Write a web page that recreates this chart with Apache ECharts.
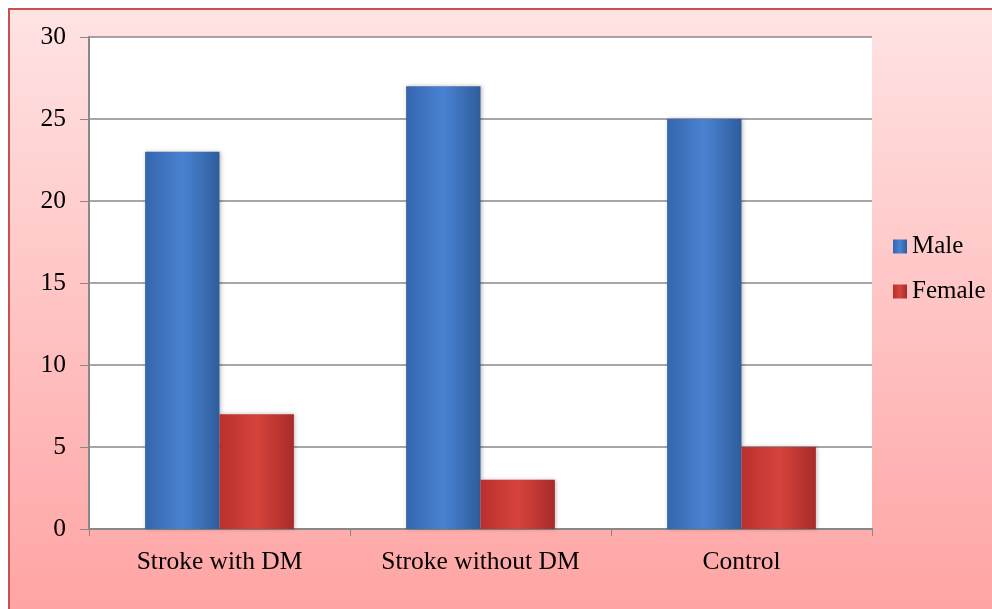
<!DOCTYPE html>
<html><head><meta charset="utf-8">
<script src="https://cdn.jsdelivr.net/npm/echarts@6/dist/echarts.min.js"></script>
<style>html,body{margin:0;padding:0;background:#fff}#c{width:992px;height:609px}</style>
</head><body><div id="c"></div>
<script>
const categories = ['Stroke with DM', 'Stroke without DM', 'Control'];
const maleValues = [23, 27, 25];
const femaleValues = [7, 3, 5];
const yTicks = [0, 5, 10, 15, 20, 25, 30];

const chart = echarts.init(document.getElementById('c'));
const font = 'Liberation Serif, "Times New Roman", serif';
function hgrad(a, b, c) {
  return new echarts.graphic.LinearGradient(0, 0, 1, 0, [
    {offset: 0, color: a}, {offset: 0.5, color: b}, {offset: 1, color: c}
  ]);
}
chart.setOption({
  animation: false,
  graphic: [{
    type: 'rect', z: -10, silent: true,
    shape: {x: 9, y: 9, width: 990, height: 610},
    style: {
      fill: new echarts.graphic.LinearGradient(0, 0, 0, 1, [
        {offset: 0, color: '#ffe3e3'}, {offset: 1, color: '#ffa3a3'}
      ]),
      stroke: '#c9504e', lineWidth: 2
    }
  }],
  grid: {left: 89, right: 120, top: 37, bottom: 80, show: true, backgroundColor: '#ffffff', borderWidth: 0},
  legend: {
    orient: 'vertical', left: 888, top: 229, itemGap: 20,
    itemWidth: 14, itemHeight: 14, icon: 'rect',
    textStyle: {fontFamily: font, fontSize: 25, color: '#000'},
    data: ['Male', 'Female']
  },
  xAxis: {
    type: 'category', data: categories,
    axisLine: {lineStyle: {color: '#888', width: 2}},
    axisTick: {show: true, length: 7, lineStyle: {color: '#888'}},
    axisLabel: {fontFamily: font, fontSize: 25.5, color: '#000', margin: 20}
  },
  yAxis: {
    type: 'value', min: 0, max: 30, interval: 5,
    axisLine: {show: true, lineStyle: {color: '#888', width: 2}},
    axisTick: {show: true, length: 9, lineStyle: {color: '#888'}},
    splitLine: {lineStyle: {color: '#888', width: 1.5}},
    axisLabel: {fontFamily: font, fontSize: 25.5, color: '#000', margin: 23,
      formatter: v => yTicks.includes(v) ? String(v) : ''}
  },
  series: [{
    name: 'Male', type: 'bar', data: maleValues,
    barGap: '0%', barCategoryGap: '43%',
    itemStyle: {color: hgrad('#3466ad', '#4a82d2', '#2e5d9c'),
      shadowColor: 'rgba(0,0,0,0.25)', shadowBlur: 4, shadowOffsetX: 1}
  }, {
    name: 'Female', type: 'bar', data: femaleValues,
    itemStyle: {color: hgrad('#b9302d', '#d6433c', '#a82b29'),
      shadowColor: 'rgba(0,0,0,0.25)', shadowBlur: 4, shadowOffsetX: 1}
  }]
});
</script></body></html>
